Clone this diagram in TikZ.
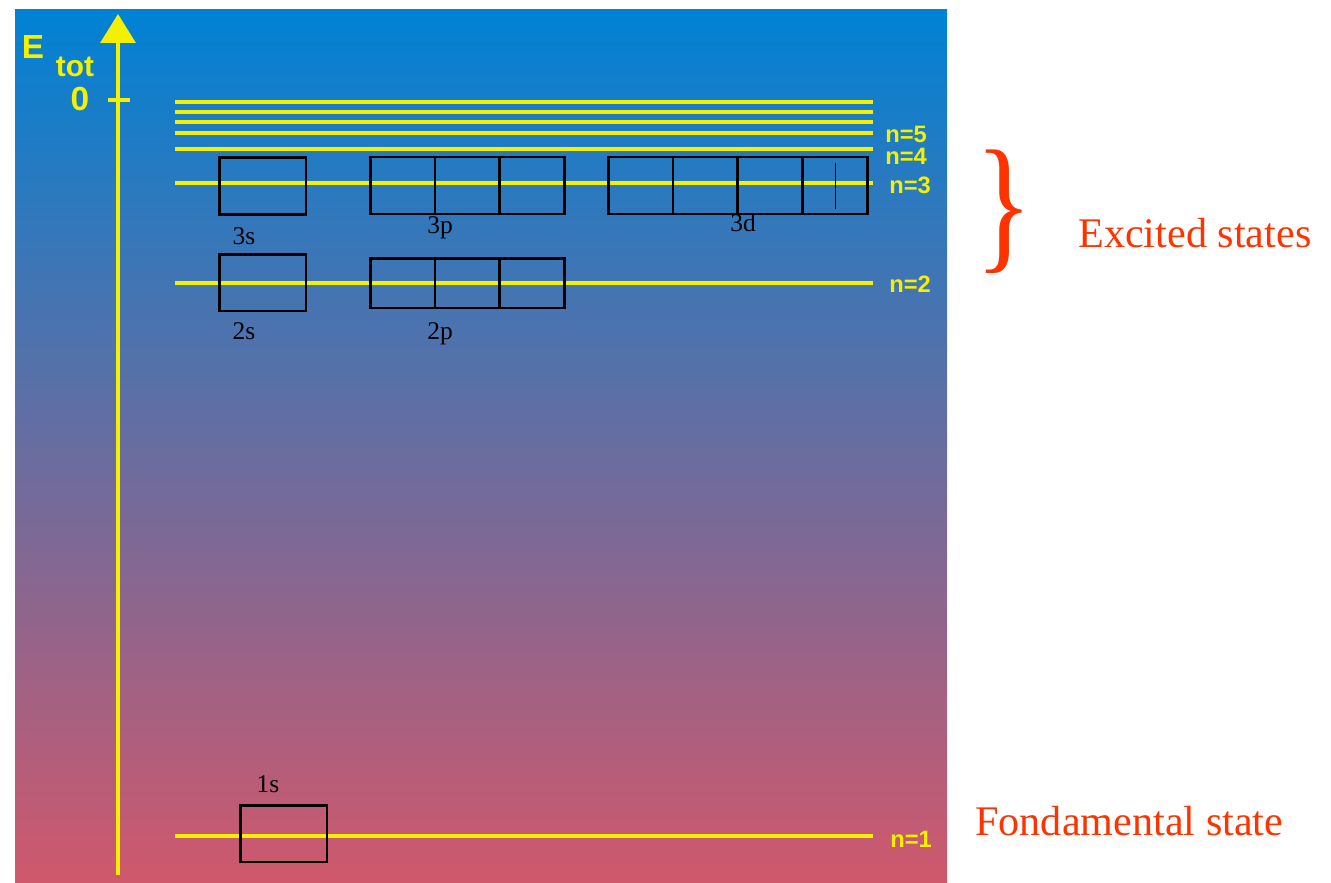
\documentclass[tikz,border=0pt]{standalone}
\usepackage{fontspec}
\setmainfont{Liberation Serif}
\newfontfamily\pixfont{Liberation Sans}
\usetikzlibrary{positioning,arrows.meta}
\definecolor{levelyellow}{RGB}{245,240,0}
\definecolor{statered}{RGB}{255,51,0}
\definecolor{topblue}{RGB}{0,130,212}
\definecolor{midviolet}{RGB}{108,110,158}
\definecolor{botrose}{RGB}{208,88,108}
\begin{document}
\begin{tikzpicture}[
    x=0.02cm, y=-0.02cm,
    level/.style={levelyellow, line width=2pt},
    orb/.style={draw, line width=1.7pt, inner sep=0pt, outer sep=0pt, minimum width=1.3cm, minimum height=1.14cm},
    orbs/.style={orb, minimum width=1.74cm},
    orblabel/.style={font=\fontsize{14.5}{14.5}\selectfont, anchor=base, inner sep=0pt},
    nlabel/.style={levelyellow, font=\pixfont\bfseries\fontsize{13.5}{13.5}\selectfont, anchor=base west, inner sep=0pt},
    axislabel/.style={levelyellow, font=\pixfont\bfseries\fontsize{19}{19}\selectfont, inner sep=0pt},
    statelabel/.style={statered, font=\fontsize{24}{24}\selectfont, anchor=base west, inner sep=0pt}
]
\useasboundingbox (0,0) rectangle (1331,882);
% Fond
\shade[top color=topblue, middle color=midviolet, bottom color=botrose] (15,10) rectangle (947,882);
% Axe
\coordinate (axisbot) at (118,875);
\coordinate (axistop) at (118,14);
\coordinate (zero) at (118,100);
\draw[levelyellow, line width=2pt, -{Triangle[width=0.7cm, length=0.58cm]}] (axisbot) -- (axistop);
\draw[levelyellow, line width=1.8pt] ([xshift=-10*0.02cm]zero) -- ([xshift=12*0.02cm]zero);
\node[axislabel] (etot) at (33,47) {E};
\node[axislabel, font=\pixfont\bfseries\fontsize{17}{17}\selectfont] (tot) at (75,67) {tot};
\node[axislabel] (zerolabel) at (80,99) {0};
% Niveaux
\foreach \y in {102,112,122,133,149,183,283,836}
    \draw[level] (175,\y) -- (873,\y);
\node[nlabel] (n5) at (885,142) {n=5};
\node[nlabel] (n4) at (885,164) {n=4};
\node[nlabel] (n3) at (889,193) {n=3};
\node[nlabel] (n2) at (889,292) {n=2};
\node[nlabel] (n1) at (890,847) {n=1};
% Cases n=3
\node[orbs] (s3) at (262.5,186) {};
\node[orb] (p3a) at (402.5,185.5) {};
\node[orb, right=0pt of p3a] (p3b) {};
\node[orb, right=0pt of p3b] (p3c) {};
\node[orb] (d3a) at (640.5,185.5) {};
\node[orb, right=0pt of d3a] (d3b) {};
\node[orb, right=0pt of d3b] (d3c) {};
\node[orb, right=0pt of d3c] (d3d) {};
\draw[line width=0.9pt] ([yshift=-23*0.02cm]d3d.center) -- ([yshift=23*0.02cm]d3d.center);
% Cases n=2
\node[orbs] (s2) at (262.5,282.5) {};
\node[orb, minimum height=1cm] (p2a) at (402.5,283) {};
\node[orb, minimum height=1cm, right=0pt of p2a] (p2b) {};
\node[orb, minimum height=1cm, right=0pt of p2b] (p2c) {};
% Case n=1
\node[orbs] (s1) at (283.5,833.5) {};
% Etiquettes
\node[orblabel] at (244,244) {3s};
\node[orblabel] at (440,233) {3p};
\node[orblabel] at (743,231) {3d};
\node[orblabel] at (244,339) {2s};
\node[orblabel] at (440,339) {2p};
\node[orblabel] at (268,792) {1s};
% Etats
\node[statered, inner sep=0pt] (brace) at (1004,212) {\scalebox{0.8}[1]{\fontsize{85}{85}\selectfont\}}};
\node[statelabel] (excited) at (1078,247) {Excited states};
\node[statelabel] (fond) at (975,835) {Fondamental state};
\end{tikzpicture}
\end{document}
